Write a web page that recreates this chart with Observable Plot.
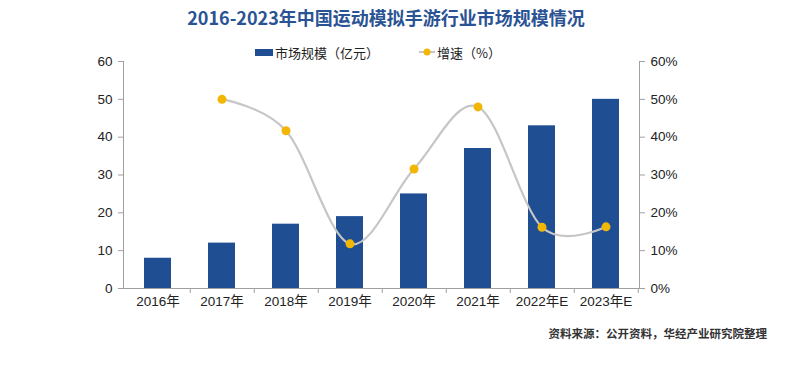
<!DOCTYPE html>
<html>
<head>
<meta charset="utf-8">
<script src="https://cdn.jsdelivr.net/npm/d3@7"></script>
<script src="https://cdn.jsdelivr.net/npm/@observablehq/plot@0.6"></script>
<style>
  html, body { margin: 0; padding: 0; background: #fff; }
  #wrap { position: relative; width: 798px; height: 386px; font-family: "Liberation Sans", "Noto Sans CJK SC", sans-serif; }
  #title { position: absolute; left: 0; width: 772px; top: 4px; text-align: center; font-family: "Noto Sans CJK SC", sans-serif; font-weight: bold; font-size: 18px; color: #2a5394; white-space: nowrap; }
  #legend { position: absolute; top: 44px; left: 255px; height: 16px; font-family: "Noto Sans CJK SC", sans-serif; font-size: 13px; color: #222; display: flex; align-items: center; white-space: nowrap; }
  #legend .sw { display: inline-block; width: 18px; height: 7px; background: #1f4e93; margin-right: 2px; }
  #legend .item2 { margin-left: 40px; display: flex; align-items: center; }
  #source { position: absolute; right: 31px; top: 325px; font-family: "Noto Sans CJK SC", sans-serif; font-size: 11.5px; font-weight: bold; color: #333; white-space: nowrap; }
  #chart { position: absolute; left: 0; top: 0; }
</style>
</head>
<body>
<div id="wrap">
  <div id="chart"></div>
  <div id="title"></div>
  <div id="legend"></div>
  <div id="source"></div>
</div>
<script>
const titleText = "2016-2023年中国运动模拟手游行业市场规模情况";
const sourceText = "资料来源：公开资料，华经产业研究院整理";
const seriesNames = ["市场规模（亿元）", "增速（%）"];
const years = ["2016年", "2017年", "2018年", "2019年", "2020年", "2021年", "2022年E", "2023年E"];
const marketSize = [8, 12, 17, 19, 25, 37, 43, 50];
const growth = [null, 50, 41.7, 11.8, 31.6, 48, 16.2, 16.3];
const yTicks = [0, 10, 20, 30, 40, 50, 60];

const barColor = "#1f4e93";
const lineColor = "#c6c6c6";
const dotColor = "#f2b705";
const axisColor = "#a0a0a0";

document.getElementById("title").textContent = titleText;
document.getElementById("source").textContent = sourceText;
document.getElementById("legend").innerHTML =
  `<span class="sw"></span><span>${seriesNames[0]}</span>` +
  `<span class="item2"><svg width="16" height="10"><line x1="0" y1="5" x2="16" y2="5" stroke="${lineColor}" stroke-width="2"/><circle cx="8" cy="5" r="3.5" fill="${dotColor}"/></svg><span style="margin-left:2px">${seriesNames[1]}</span></span>`;

const table = years.map((y, i) => ({year: y, size: marketSize[i], growth: growth[i]}));
const growthTable = table.filter(d => d.growth != null);

const W = 798, H = 386, mL = 123, mR = 159, mT = 61, mB = 98;
const halfStep = (W - mL - mR) / years.length / 2;

const plot = Plot.plot({
  width: W,
  height: H,
  marginLeft: mL,
  marginRight: mR,
  marginTop: mT,
  marginBottom: mB,
  style: {fontFamily: "'Liberation Sans', 'Noto Sans CJK SC', sans-serif", fontSize: "13px", color: "#222", background: "transparent"},
  x: {type: "band", domain: years, paddingInner: 0.58, paddingOuter: 0.29, label: null},
  y: {domain: [0, 60], label: null},
  marks: [
    Plot.barY(table, {x: "year", y: "size", fill: barColor}),
    Plot.line(growthTable, {x: "year", y: "growth", stroke: lineColor, strokeWidth: 2.2, curve: "cardinal", tension: 0}),
    Plot.dot(growthTable, {x: "year", y: "growth", fill: dotColor, r: 4.5}),
    Plot.frame({anchor: "left", stroke: axisColor}),
    Plot.frame({anchor: "right", stroke: axisColor}),
    Plot.frame({anchor: "bottom", stroke: axisColor}),
    Plot.axisY({anchor: "left", ticks: yTicks, tickSize: 5, tickPadding: 6, stroke: axisColor, fontSize: 13.5, label: null}),
    Plot.axisY({anchor: "right", ticks: yTicks, tickSize: 5, tickPadding: 6, tickFormat: d => d + "%", stroke: axisColor, fontSize: 13.5, label: null}),
    Plot.axisX({anchor: "bottom", tickSize: 0, tickPadding: 8, fontSize: 13.5, label: null}),
    Plot.axisX({anchor: "bottom", tickSize: 5, text: null, dx: halfStep, stroke: axisColor, label: null})
  ]
});
document.getElementById("chart").appendChild(plot);
</script>
</body>
</html>
